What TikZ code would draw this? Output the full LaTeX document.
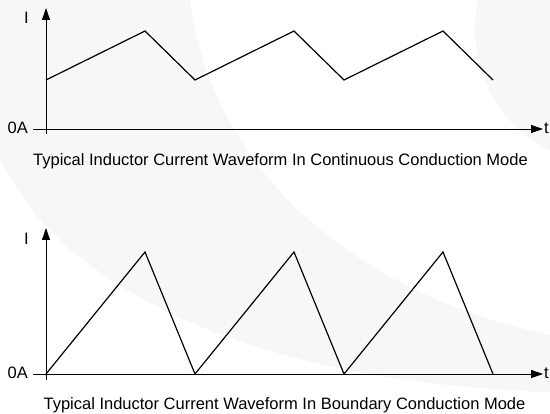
\documentclass[tikz,border=0pt]{standalone}
\usepackage{fontspec}
\setmainfont{Liberation Sans}
\usetikzlibrary{arrows.meta}

\tikzset{
  axis/.style={draw,line width=0.8pt,-{Triangle[length=12pt,width=8pt]}},
  wave/.style={draw,line width=1.2pt,line join=miter},
  lbl/.style={font=\fontsize{16.5}{19}\selectfont,inner sep=0pt},
  shade/.style={fill=black!3,draw=none}
}

\begin{document}
\begin{tikzpicture}[x=1pt,y=-1pt]
\useasboundingbox (0,0) rectangle (550,414);
\clip (0,0) rectangle (550,414);

% faint background
\path[shade] (0,0) -- (190,0) .. controls (215,190) and (380,300) .. (550,335)
  -- (550,392) .. controls (330,385) and (140,330) .. (40,220)
  .. controls (20,195) and (5,170) .. (0,160) -- cycle;
\path[shade] (610,30) circle (135);

% continuous conduction mode
\coordinate (cys) at (46,134);
\coordinate (cy) at (46,8);
\coordinate (cxs) at (33,129);
\coordinate (cx) at (543,129);
\path[axis] (cys) -- (cy);
\path[axis] (cxs) -- (cx);
\node[lbl,anchor=base east] (cI) at (29,24) {I};
\node[lbl,anchor=base east] (c0A) at (28,134) {0A};
\node[lbl,anchor=base west] (ct) at (544,134) {t};

\coordinate (ca1) at (46,80);
\coordinate (cb1) at (145,31);
\coordinate (ca2) at (195,80);
\coordinate (cb2) at (294,31);
\coordinate (ca3) at (344,80);
\coordinate (cb3) at (443,31);
\coordinate (ca4) at (493,80);
\path[wave] (ca1) -- (cb1) -- (ca2) -- (cb2) -- (ca3) -- (cb3) -- (ca4);

\node[lbl,anchor=base] (ccap) at (280.5,166)
  {Typical Inductor Current Waveform In Continuous Conduction Mode};

% boundary conduction mode
\coordinate (bys) at (46,380);
\coordinate (by) at (46,228);
\coordinate (bxs) at (33,374);
\coordinate (bx) at (543,374);
\path[axis] (bys) -- (by);
\path[axis] (bxs) -- (bx);
\node[lbl,anchor=base east] (bI) at (29,245) {I};
\node[lbl,anchor=base east] (b0A) at (28,379) {0A};
\node[lbl,anchor=base west] (bt) at (544,379) {t};

\coordinate (ba1) at (46,374);
\coordinate (bb1) at (145,252);
\coordinate (ba2) at (195,374);
\coordinate (bb2) at (294,252);
\coordinate (ba3) at (344,374);
\coordinate (bb3) at (443,252);
\coordinate (ba4) at (493,374);
\path[wave] (ba1) -- (bb1) -- (ba2) -- (bb2) -- (ba3) -- (bb3) -- (ba4);

\node[lbl,anchor=base] (bcap) at (284.5,410)
  {Typical Inductor Current Waveform In Boundary Conduction Mode};

\end{tikzpicture}
\end{document}
